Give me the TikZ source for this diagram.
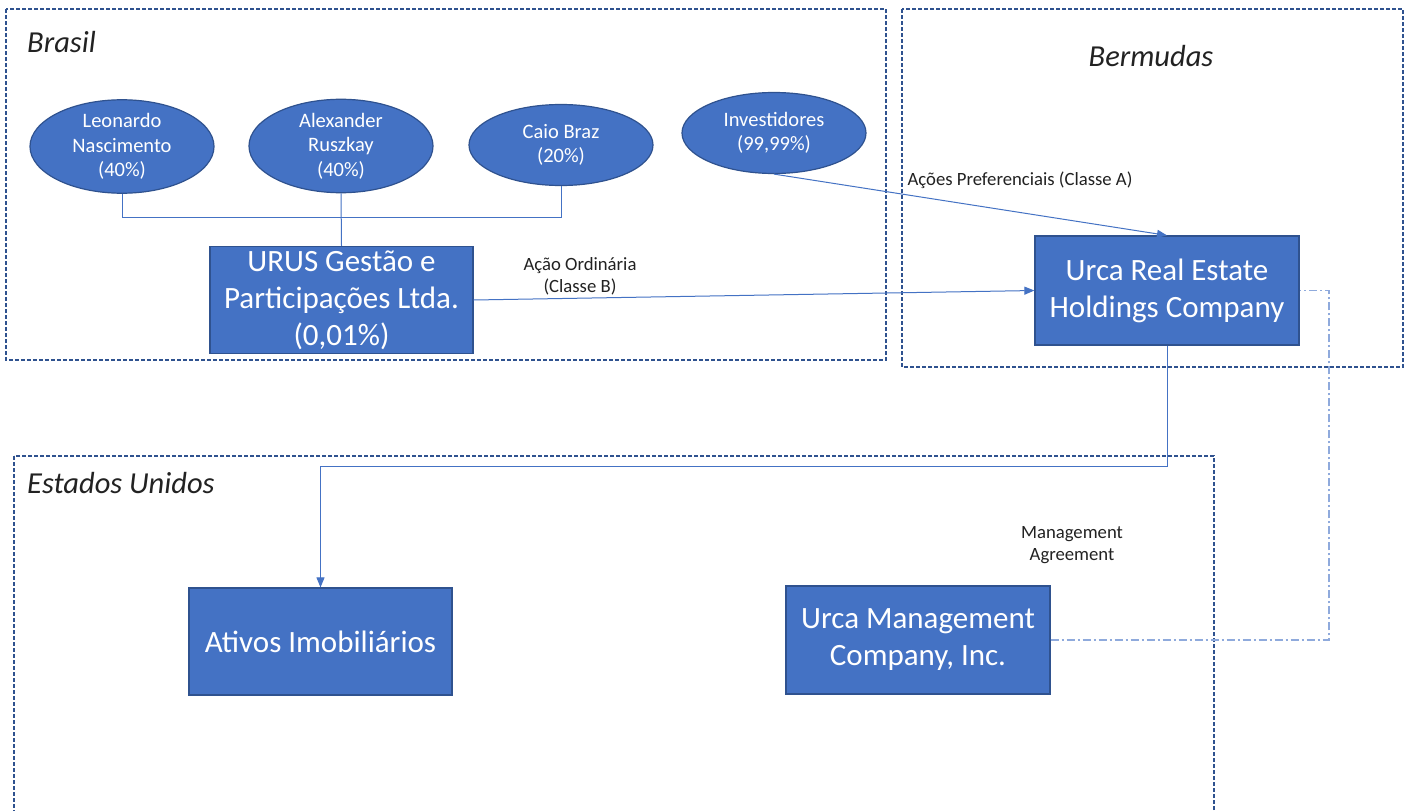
\documentclass[tikz,border=0pt]{standalone}
\usepackage{fontspec}
\setmainfont{Carlito}
\usetikzlibrary{shapes.geometric,arrows.meta}
\definecolor{boxblue}{HTML}{4472C4}
\definecolor{edgeblue}{HTML}{2F528F}
\definecolor{lightblue}{HTML}{8FAADC}
\definecolor{txtdark}{HTML}{222222}
\begin{document}
\begin{tikzpicture}[x=1pt,y=-1pt,
  region/.style={draw=edgeblue,line width=1.4pt,dash pattern=on 4pt off 2pt},
  regiontitle/.style={text=txtdark,font=\fontsize{30.5}{36}\selectfont\itshape,inner sep=0pt},
  person/.style={ellipse,draw=edgeblue,line width=1.2pt,fill=boxblue,text=white,align=center,
    minimum width=184pt,minimum height=81pt,inner sep=0pt,font=\fontsize{20.5}{24.5}\selectfont},
  entity/.style={rectangle,draw=edgeblue,line width=1.2pt,fill=boxblue,text=white,align=center,
    minimum width=263pt,minimum height=107pt,inner sep=0pt,font=\fontsize{31}{37}\selectfont},
  conn/.style={draw=boxblue,line width=1pt},
  arr/.style={conn,-{Triangle[length=10pt,width=8pt]}},
  ddline/.style={draw=lightblue,line width=1.3pt,dash pattern=on 8pt off 3pt on 2pt off 3pt},
  lbl/.style={text=txtdark,align=center,inner sep=0pt,font=\fontsize{18.7}{22}\selectfont}
]
\clip (0,0) rectangle (1411,811);
\fill[white] (0,0) rectangle (1411,811);

% regions
\draw[region] (6,9) rectangle (886,360);
\draw[region] (902,9) rectangle (1403,367);
\draw[region] (14,456) rectangle (1214,840);

\node[regiontitle,anchor=base west] (tbr) at (27,52) {Brasil};
\node[regiontitle,anchor=base] (tbe) at (1151,66) {Bermudas};
\node[regiontitle,anchor=base west] (teu) at (27,493) {Estados Unidos};

% people
\node[person] (leo) at (122,146.5) {Leonardo\\Nascimento\\(40\%)};
\node[person] (alex) at (341,146) {Alexander\\Ruszkay\\(40\%)};
\node[person] (caio) at (561,145) {Caio Braz\\(20\%)};
\node[person] (inv) at (774,133) {Investidores\\(99,99\%)};

% entities
\node[entity] (urus) at (341.5,300) {URUS Gestão e\\Participações Ltda.\\(0,01\%)};
\node[entity,minimum width=264pt,minimum height=109pt] (urca) at (1167,290.5) {Urca Real Estate\\Holdings Company};
\node[entity] (ativos) at (320.5,641.5) {Ativos Imobiliários};
\node[entity,minimum width=264pt,minimum height=108pt] (umc) at (918,640) {Urca Management\\Company, Inc.};

% ownership connectors
\coordinate (join) at (341,217);
\draw[conn] (leo.south) -- (leo.south |- join) -- (caio.south |- join) -- (caio.south);
\draw[conn] (alex.south) -- (urus.north);

\draw[arr] (urus.east) -- (urca.west);
\node[lbl] (lao) at (580,276) {Ação Ordinária\\(Classe B)};

\draw[arr] (inv.south) -- (urca.north);
\node[lbl] (lap) at (1020,180) {Ações Preferenciais (Classe A)};

\coordinate (turn) at (0,466);
\draw[arr] (urca.south) -- (urca.south |- turn) -| (ativos.north);

% management agreement
\coordinate (ddx) at (1329,0);
\draw[ddline] (umc.east) -| (ddx |- urca.east) -- (urca.east);
\node[lbl] (lma) at (1072,545) {Management\\Agreement};
\end{tikzpicture}
\end{document}
